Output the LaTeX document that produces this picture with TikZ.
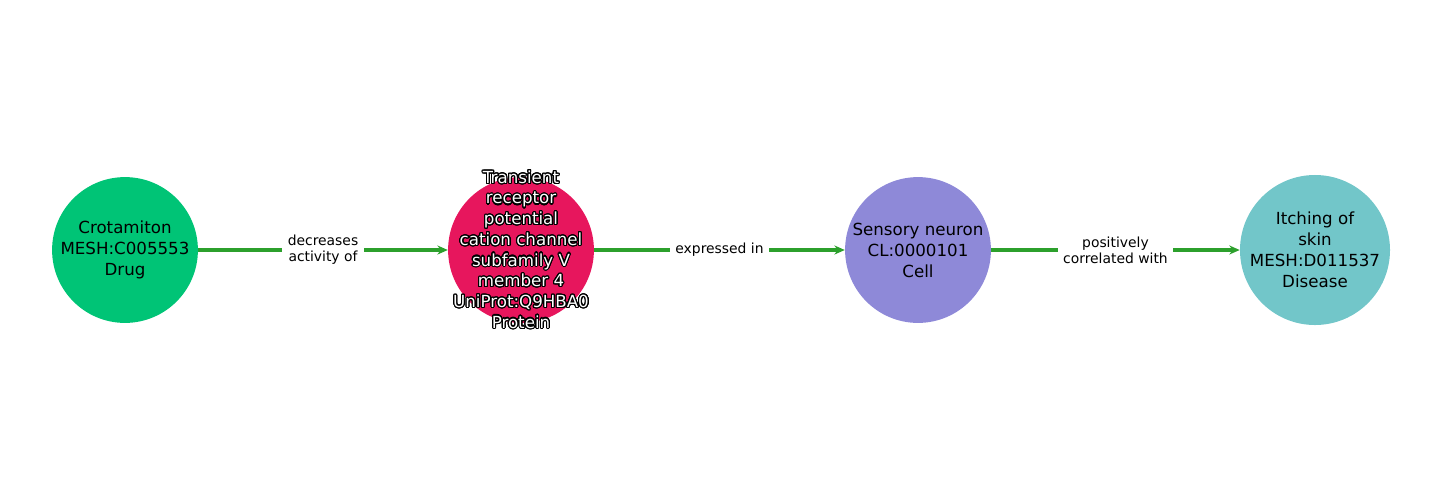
\documentclass[tikz,border=0pt]{standalone}
\usepackage{fontspec}
\setmainfont{DejaVu Sans}
\usepackage{contour}
\contourlength{0.8pt}
\contournumber{24}
\usetikzlibrary{arrows.meta}
\definecolor{drugc}{RGB}{0,196,118}
\definecolor{protc}{RGB}{231,22,93}
\definecolor{cellc}{RGB}{142,137,216}
\definecolor{disc}{RGB}{114,198,201}
\definecolor{edgec}{RGB}{44,160,44}
\newcommand{\wline}[1]{\contour{black}{\textcolor{white}{#1}}}

\begin{document}
\begin{tikzpicture}[x=0.72pt,y=-0.72pt,
  every entity/.style={circle,minimum size=105pt,inner sep=0pt,align=center,font=\fontsize{12}{15.1}\selectfont},
  every link/.style={draw=edgec,line width=2.2pt,-{Stealth[length=7.5pt,width=6.5pt]}},
  every tag/.style={fill=white,inner xsep=4pt,inner ysep=1pt,align=center,font=\fontsize{10}{11.5}\selectfont}
]
  \useasboundingbox (0,0) rectangle (1440,500);
  \node[every entity,fill=drugc] (drug) at (125,250) {Crotamiton\\MESH:C005553\\Drug};
  \node[every entity,fill=protc] (prot) at (521,250) {};
  \node[align=center,inner sep=0pt,font=\fontsize{12}{14.9}\selectfont] (protlbl) at (prot.center) {\wline{Transient}\\\wline{receptor}\\\wline{potential}\\\wline{cation channel}\\\wline{subfamily V}\\\wline{member 4}\\\wline{UniProt:Q9HBA0}\\\wline{Protein}};
  \node[every entity,fill=cellc] (cell) at (918,250) {Sensory neuron\\CL:0000101\\Cell};
  \node[every entity,fill=disc] (dis) at (1315,250) {Itching of\\skin\\MESH:D011537\\Disease};

  \draw[every link] (drug) -- node[every tag,text=black] {decreases\\activity of} (prot);
  \draw[every link] (prot) -- node[every tag,text=black] {expressed in} (cell);
  \draw[every link] (cell) -- node[every tag,text=black] {positively\\correlated with} (dis);
\end{tikzpicture}
\end{document}
